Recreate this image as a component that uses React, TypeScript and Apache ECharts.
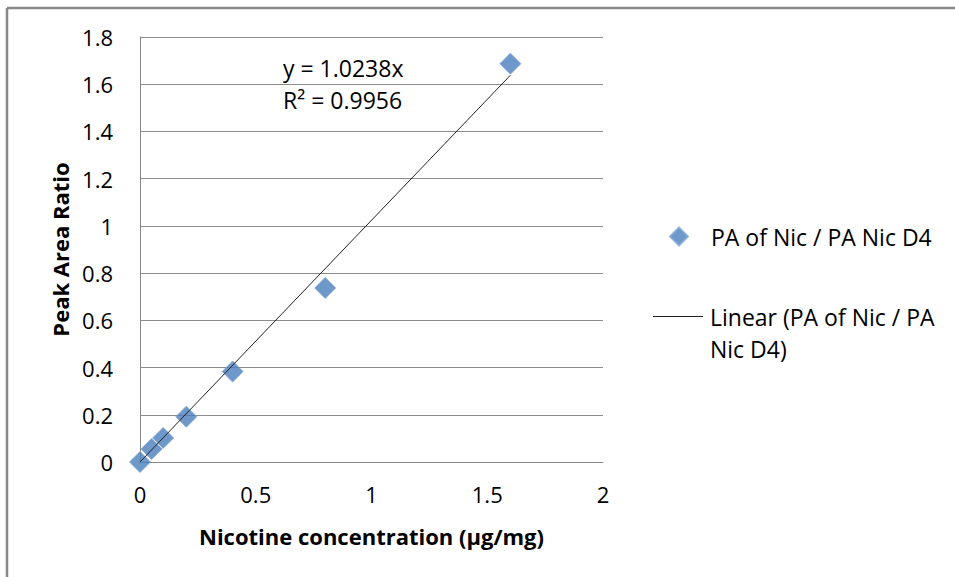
import React, { useEffect, useRef } from "react";
import * as echarts from "echarts";

const concentrations = [0, 0.05, 0.1, 0.2, 0.4, 0.8, 1.6];
const peakAreaRatios = [0, 0.055, 0.102, 0.192, 0.383, 0.737, 1.687];
const trendSlope = 1.0238;
const trendR2 = 0.9956;
const scatterName = "PA of Nic / PA Nic D4";
const trendName = "Linear (PA of Nic / PA Nic D4)";
const trendLegendLines = ["Linear (PA of Nic / PA", "Nic D4)"];
const xTitle = "Nicotine concentration (\u00b5g/mg)";
const yTitle = "Peak Area Ratio";

const FONT = "'Open Sans', 'Liberation Sans', sans-serif";
const FS = 22;
const FS_LEG = 23;

export default function App() {
  const ref = useRef<HTMLDivElement>(null);
  useEffect(() => {
    if (!ref.current) return;
    const chart = echarts.init(ref.current, undefined, { renderer: "svg" });
    const xMax = concentrations[concentrations.length - 1];
    const trendData = [
      [concentrations[0], trendSlope * concentrations[0]],
      [xMax, trendSlope * xMax],
    ];
    chart.setOption({
      animation: false,
      backgroundColor: "#fff",
      textStyle: { fontFamily: FONT },
      grid: { left: 140, top: 37, width: 463, height: 425 },
      xAxis: {
        type: "value",
        min: 0,
        max: 2,
        interval: 0.5,
        name: xTitle,
        nameLocation: "middle",
        nameGap: 63,
        nameTextStyle: { fontSize: FS, fontWeight: "bold", color: "#000", fontFamily: FONT },
        axisLine: { show: true, lineStyle: { color: "#888", width: 1 } },
        axisTick: { show: false },
        splitLine: { show: false },
        axisLabel: { fontSize: FS, color: "#000", margin: 21, fontFamily: FONT },
      },
      yAxis: {
        type: "value",
        min: 0,
        max: 1.8,
        interval: 0.2,
        name: yTitle,
        nameLocation: "middle",
        nameGap: 69,
        nameTextStyle: { fontSize: FS, fontWeight: "bold", color: "#000", fontFamily: FONT },
        axisLine: { show: true, lineStyle: { color: "#888", width: 1 } },
        axisTick: { show: false },
        splitLine: { show: true, lineStyle: { color: "#8c8c8c", width: 1 } },
        axisLabel: {
          fontSize: FS,
          color: "#000",
          margin: 27,
          fontFamily: FONT,
          formatter: (v: number) => String(Math.round(v * 10) / 10),
        },
      },
      legend: [
        {
          orient: "vertical",
          left: 669,
          top: 225,
          padding: 0,
          itemWidth: 18,
          itemHeight: 18,
          data: [{ name: scatterName, icon: "diamond" }],
          textStyle: { fontSize: FS_LEG, color: "#000", fontFamily: FONT, padding: [0, 0, 0, 18] },
          selectedMode: false,
        },
        {
          orient: "vertical",
          left: 653,
          top: 305,
          padding: 0,
          itemWidth: 50,
          itemHeight: 1,
          data: [{ name: trendName, icon: "rect" }],
          formatter: () => trendLegendLines[0],
          textStyle: { fontSize: FS_LEG, color: "#000", fontFamily: FONT, padding: [0, 0, 0, 2] },
          selectedMode: false,
        },
      ],
      graphic: [
        {
          type: "line",
          shape: { x1: 7, y1: 8, x2: 955, y2: 8 },
          style: { stroke: "#888", lineWidth: 2.5 },
        },
        {
          type: "line",
          shape: { x1: 7, y1: 8, x2: 7, y2: 577 },
          style: { stroke: "#888", lineWidth: 2.5 },
        },
        {
          type: "text",
          left: 710,
          top: 337,
          style: {
            text: trendLegendLines[1],
            font: `${FS_LEG}px ${FONT}`,
            fill: "#000",
          },
        },
        {
          type: "text",
          left: 283,
          top: 52,
          style: {
            text: `y = ${trendSlope}x\nR\u00b2 = ${trendR2}`,
            font: `${FS_LEG}px ${FONT}`,
            fill: "#000",
            lineHeight: 32,
          },
        },
      ],
      series: [
        {
          name: scatterName,
          type: "scatter",
          symbol: "diamond",
          symbolSize: 21,
          itemStyle: { color: "#4a7ebb", borderColor: "#7fa6d6", borderWidth: 1 },
          data: concentrations.map((x, i) => [x, peakAreaRatios[i]]),
          z: 2,
        },
        {
          name: trendName,
          type: "line",
          symbol: "none",
          lineStyle: { color: "#222", width: 1 },
          itemStyle: { color: "#222" },
          data: trendData,
          z: 3,
        },
      ],
    });
    return () => chart.dispose();
  }, []);
  return (
    <div
      ref={ref}
      style={{ position: "absolute", left: 0, top: 0, width: 955, height: 577 }}
    />
  );
}
